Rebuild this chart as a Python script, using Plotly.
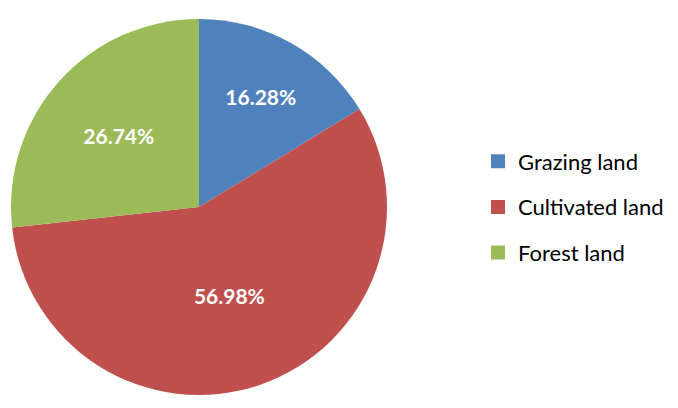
import plotly.graph_objects as go

labels = ["Grazing land", "Cultivated land", "Forest land"]
values = [16.28, 56.98, 26.74]
colors = ["#4F81BD", "#C0504D", "#9BBB59"]

W, H = 678, 408
fig = go.Figure(go.Pie(
    labels=labels,
    values=values,
    sort=False,
    direction="clockwise",
    rotation=0,
    marker=dict(colors=colors, line=dict(width=0)),
    texttemplate="%{percent:.2%}",
    textposition="inside",
    insidetextorientation="horizontal",
    textfont=dict(family="Lato", size=21, color="white", weight="bold"),
    domain=dict(x=[3 / W, 379 / W], y=[21 / H, 397 / H]),
    hoverinfo="label+percent",
    showlegend=False,
))
# legend entries (one legend group each so they can be spaced apart)
for lab, col in zip(labels, colors):
    fig.add_trace(go.Scatter(
        x=[None], y=[None], mode="markers", name=lab, legendgroup=lab,
        marker=dict(symbol="square", size=14, color=col),
        showlegend=True, hoverinfo="skip",
    ))
fig.update_layout(
    width=W, height=H,
    margin=dict(l=0, r=0, t=0, b=0),
    paper_bgcolor="white",
    plot_bgcolor="white",
    font=dict(family="Lato", size=22, color="black"),
    xaxis=dict(visible=False),
    yaxis=dict(visible=False),
    legend=dict(x=470 / W, y=1 - 199 / H, xanchor="left", yanchor="middle",
                font=dict(family="Lato", size=22, color="black"),
                itemsizing="trace", tracegroupgap=14),
)
fig.write_html("out.html")
